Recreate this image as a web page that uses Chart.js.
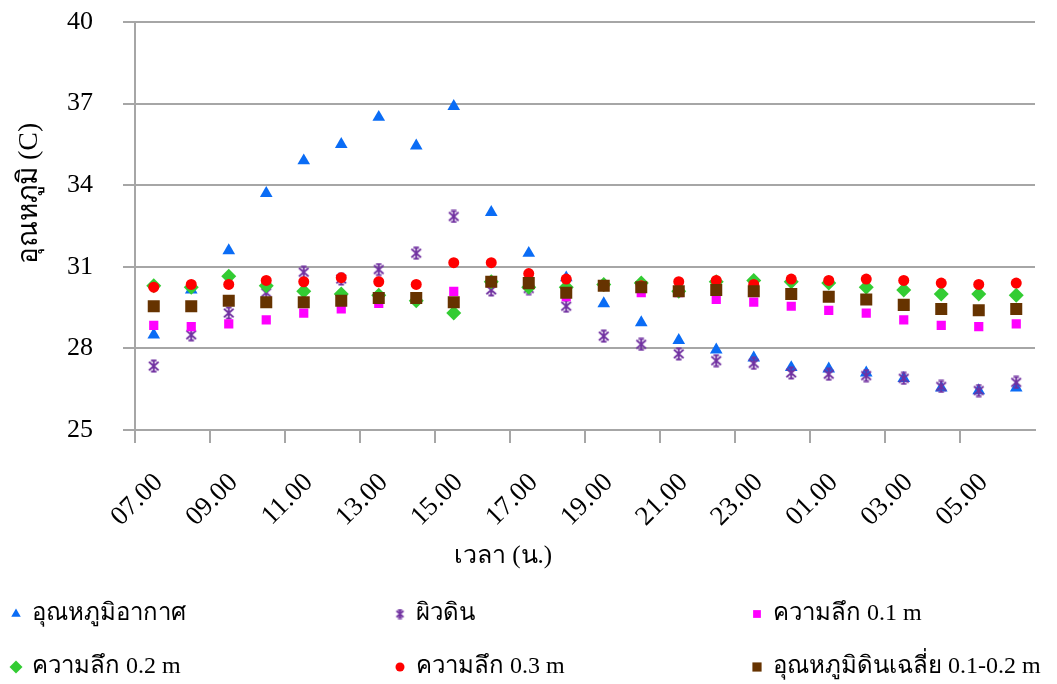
<!DOCTYPE html>
<html>
<head>
<meta charset="utf-8">
<script src="https://cdn.jsdelivr.net/npm/chart.js@4.4.1/dist/chart.umd.min.js"></script>
<style>
  html, body { margin: 0; padding: 0; background: #ffffff; }
  canvas { display: block; }
</style>
</head>
<body>
<canvas id="chart" width="1057" height="684"></canvas>
<script>
// Hourly readings, 07.00 through 06.00 the next morning
const hours = ['07.00','08.00','09.00','10.00','11.00','12.00','13.00','14.00','15.00','16.00','17.00','18.00',
               '19.00','20.00','21.00','22.00','23.00','00.00','01.00','02.00','03.00','04.00','05.00','06.00'];

const seriesNames = ['อุณหภูมิอากาศ', 'ผิวดิน', 'ความลึก 0.1 m', 'ความลึก 0.2 m', 'ความลึก 0.3 m', 'อุณหภูมิดินเฉลี่ย 0.1-0.2 m'];

const airTemp   = [28.5, 30.15, 31.6, 33.7, 34.9, 35.5, 36.5, 35.45, 36.9, 33.0, 31.5, 30.6,
                   29.65, 28.95, 28.3, 27.95, 27.65, 27.3, 27.25, 27.1, 26.9, 26.55, 26.45, 26.55];
const surface   = [27.35, 28.5, 29.3, 30.05, 30.8, 30.55, 30.9, 31.5, 32.85, 30.15, 30.2, 29.55,
                   28.45, 28.15, 27.8, 27.55, 27.45, 27.1, 27.05, 27.0, 26.9, 26.6, 26.45, 26.75];
const depth01   = [28.85, 28.8, 28.9, 29.05, 29.3, 29.45, 29.65, 29.85, 30.1, 30.4, 30.35, 29.9,
                   30.3, 30.05, 30.05, 29.8, 29.7, 29.55, 29.4, 29.3, 29.05, 28.85, 28.8, 28.9];
const depth02   = [30.3, 30.25, 30.65, 30.3, 30.1, 30.0, 29.95, 29.75, 29.3, 30.45, 30.25, 30.25,
                   30.35, 30.4, 30.1, 30.45, 30.5, 30.45, 30.4, 30.25, 30.15, 30.0, 30.0, 29.95];
const depth03   = [30.25, 30.35, 30.35, 30.5, 30.45, 30.6, 30.45, 30.35, 31.15, 31.15, 30.75, 30.55,
                   30.3, 30.3, 30.45, 30.5, 30.35, 30.55, 30.5, 30.55, 30.5, 30.4, 30.35, 30.4];
const soilAvg   = [29.55, 29.55, 29.75, 29.7, 29.7, 29.75, 29.85, 29.85, 29.7, 30.45, 30.4, 30.05,
                   30.3, 30.25, 30.1, 30.15, 30.1, 30.0, 29.9, 29.8, 29.6, 29.45, 29.4, 29.45];

const yMin = 25, yMax = 40, yStep = 3;

const colors = ['#0a6cf5', '#7030a0', '#ff00ff', '#33cc33', '#ff0000', '#663300'];
const gridGray = '#a6a6a6';
const fontFamily = '"Liberation Serif", "Times New Roman", serif';

// Six-armed asterisk marker with small caps
function makeAsterisk(color, size) {
  const c = document.createElement('canvas');
  c.width = size; c.height = size;
  const g = c.getContext('2d');
  const m = size / 2, r = size / 2 - 1;
  g.strokeStyle = color;
  g.lineWidth = 1.8;
  g.beginPath();
  g.moveTo(m - r * 0.8, m - r * 0.7); g.lineTo(m + r * 0.8, m + r * 0.7);
  g.moveTo(m + r * 0.8, m - r * 0.7); g.lineTo(m - r * 0.8, m + r * 0.7);
  g.moveTo(m, m - r); g.lineTo(m, m + r);
  g.moveTo(m - r * 0.45, m - r + 0.5); g.lineTo(m + r * 0.45, m - r + 0.5);
  g.moveTo(m - r * 0.45, m + r - 0.5); g.lineTo(m + r * 0.45, m + r - 0.5);
  g.stroke();
  return c;
}
const asteriskBig = makeAsterisk(colors[1], 14);
const asteriskSmall = makeAsterisk(colors[1], 11);

const seriesValues = [airTemp, surface, depth01, depth02, depth03, soilAvg];
const markerStyles = ['triangle', asteriskBig, 'rect', 'rectRot', 'circle', 'rect'];
const markerRadius = [7.3, 7, 6.5, 7.5, 5.5, 8.5];
const legendStyles = ['triangle', asteriskSmall, 'rect', 'rectRot', 'circle', 'rect'];
const legendRadius = [5.5, 5.5, 5.5, 6.5, 4.5, 6.5];

const datasets = seriesValues.map((vals, i) => ({
  label: seriesNames[i],
  data: vals,
  showLine: false,
  pointStyle: markerStyles[i],
  pointRadius: markerRadius[i],
  pointHoverRadius: markerRadius[i],
  pointBackgroundColor: colors[i],
  pointBorderColor: colors[i],
  pointBorderWidth: 0,
  borderColor: colors[i],
  backgroundColor: colors[i],
  // later series sit on top, as in the spreadsheet
  order: seriesValues.length - i
}));

// Legend in a fixed three-column grid plus the two axis titles
const layoutDecor = {
  id: 'layoutDecor',
  afterDraw(chart) {
    const ctx = chart.ctx;
    const area = chart.chartArea;
    ctx.save();
    ctx.fillStyle = '#000';

    // x axis title
    ctx.font = '25px ' + fontFamily;
    ctx.textAlign = 'center';
    ctx.textBaseline = 'middle';
    ctx.fillText('เวลา (น.)', area.left + (area.right - area.left) * 0.409, 556);

    // y axis title
    ctx.save();
    ctx.font = '28px ' + fontFamily;
    ctx.translate(30, area.top + (area.bottom - area.top) * 0.42);
    ctx.rotate(-Math.PI / 2);
    ctx.fillText('อุณหภูมิ (C)', 0, 0);
    ctx.restore();

    // legend
    const colX = [16, 400, 757];
    const rowY = [614, 667];
    ctx.font = '24px ' + fontFamily;
    ctx.textAlign = 'left';
    chart.data.datasets.forEach((ds, i) => {
      const cx = colX[i % 3];
      const cy = rowY[Math.floor(i / 3)];
      const opts = {
        pointStyle: legendStyles[i],
        radius: legendRadius[i],
        rotation: 0,
        borderWidth: 0
      };
      ctx.fillStyle = ds.pointBackgroundColor;
      ctx.strokeStyle = ds.pointBorderColor;
      if (Chart.helpers && Chart.helpers.drawPoint) {
        Chart.helpers.drawPoint(ctx, opts, cx, cy);
      }
      ctx.fillStyle = '#000';
      ctx.fillText(ds.label, cx + 16, cy);
    });
    ctx.restore();
  }
};

new Chart(document.getElementById('chart'), {
  type: 'line',
  data: { labels: hours, datasets },
  options: {
    responsive: false,
    animation: false,
    events: [],
    layout: { padding: { top: 22, right: 22, bottom: 114, left: 0 } },
    plugins: {
      legend: { display: false },
      tooltip: { enabled: false },
      title: { display: false }
    },
    scales: {
      x: {
        type: 'category',
        offset: true,
        afterFit(scale) {
          scale.height = 140;
          // rotated labels should not narrow the plot
          scale.paddingLeft = 0;
          scale.paddingRight = 0;
        },
        grid: {
          offset: true,
          drawOnChartArea: false,
          drawTicks: true,
          tickLength: 13,
          lineWidth: 2,
          color: (c) => (c.index % 2 === 0 ? gridGray : 'rgba(0,0,0,0)'),
          tickColor: (c) => (c.index % 2 === 0 ? gridGray : 'rgba(0,0,0,0)')
        },
        border: { display: true, color: gridGray, width: 2 },
        ticks: {
          autoSkip: false,
          maxRotation: 45,
          minRotation: 45,
          padding: 24,
          labelOffset: 5,
          color: '#000',
          font: { family: fontFamily, size: 27 },
          callback: (v, i) => (i % 2 === 0 ? hours[i] : '')
        }
      },
      y: {
        min: yMin,
        max: yMax,
        afterFit(scale) {
          scale.width = 135;
          // keep the plot top/bottom governed by the layout padding only
          scale.paddingTop = 0;
          scale.paddingBottom = 0;
        },
        grid: {
          color: gridGray,
          lineWidth: 2,
          drawTicks: true,
          tickLength: 12
        },
        border: { display: true, color: gridGray, width: 2 },
        ticks: {
          stepSize: yStep,
          padding: 30,
          color: '#000',
          font: { family: fontFamily, size: 26 }
        }
      }
    }
  },
  plugins: [layoutDecor]
});
</script>
</body>
</html>
